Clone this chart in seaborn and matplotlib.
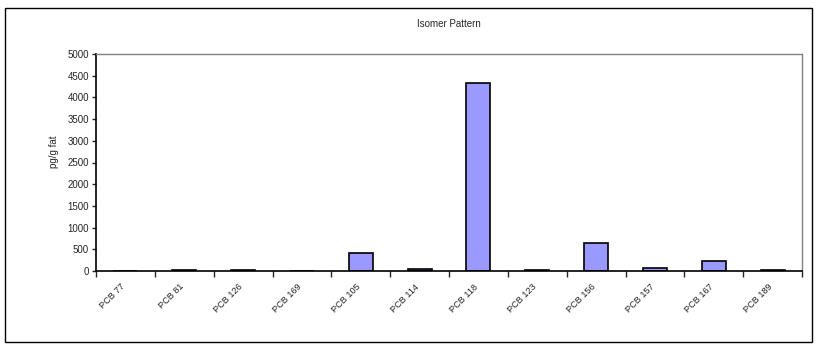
import matplotlib
matplotlib.use("Agg")
import matplotlib.pyplot as plt
import matplotlib.transforms as mtransforms
import seaborn as sns
import numpy as np
import pandas as pd

# values
congeners = ["PCB 77", "PCB 81", "PCB 126", "PCB 169", "PCB 105", "PCB 114",
             "PCB 118", "PCB 123", "PCB 156", "PCB 157", "PCB 167", "PCB 189"]
pg_per_g_fat = [5, 15, 15, 3, 420, 45, 4330, 15, 650, 62, 222, 20]

df = pd.DataFrame({"congener": congeners, "value": pg_per_g_fat})

sns.set_style("white")
plt.rcParams["font.family"] = ["Liberation Sans", "DejaVu Sans"]

fig = plt.figure(figsize=(8.16, 3.49), dpi=100)
ax = fig.add_axes([96 / 816, 1 - 271 / 349, (802 - 96) / 816, (271 - 54) / 349])

sns.barplot(data=df, x="congener", y="value", color="#9999FF", saturation=1,
            width=0.41, edgecolor="black", linewidth=1.2, ax=ax)

ax.set_ylim(0, 5000)
ax.set_xlim(-0.5, len(congeners) - 0.5)
ax.set_yticks(np.arange(0, 5001, 500))
ax.tick_params(axis="y", labelsize=7, length=3, width=1, direction="out", left=True, pad=2)
ax.set_xticks(np.arange(len(congeners)))
ax.set_xticklabels(congeners, rotation=45, ha="right", rotation_mode="anchor", fontsize=6.6)
ax.tick_params(axis="x", which="major", length=0, pad=8)
ax.set_xticks(np.arange(-0.5, len(congeners)), minor=True)
ax.tick_params(axis="x", which="minor", length=4, width=1, direction="out", bottom=True)

# nudge the rotated labels a little to the left, like the original
shift = mtransforms.ScaledTranslation(-5 / 100, 0, fig.dpi_scale_trans)
for lbl in ax.get_xticklabels():
    lbl.set_transform(lbl.get_transform() + shift)

for side in ["left", "bottom"]:
    ax.spines[side].set_color("black")
    ax.spines[side].set_linewidth(1.2)
for side in ["top", "right"]:
    ax.spines[side].set_color("#808080")
    ax.spines[side].set_linewidth(1)

ax.set_xlabel("")
ax.set_ylabel("")
fig.text(54 / 816, 1 - 152 / 349, "pg/g fat", rotation=90, ha="center", va="center", fontsize=7)
fig.text(449 / 816, 1 - 24 / 349, "Isomer Pattern", ha="center", va="center", fontsize=7)

frame = plt.Rectangle((5 / 816, 1 - 342 / 349), 807 / 816, 334 / 349, transform=fig.transFigure,
                      fill=False, edgecolor="black", linewidth=1)
fig.patches.append(frame)

fig.savefig("out.png", dpi=100)
